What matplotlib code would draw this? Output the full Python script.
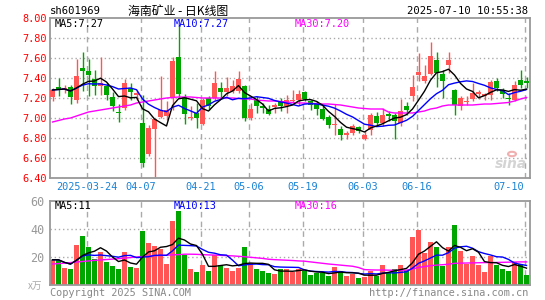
import numpy as np
import pandas as pd
import matplotlib.pyplot as plt
from matplotlib.transforms import blended_transform_factory

plt.rcParams['font.family'] = ['DejaVu Sans Mono', 'Noto Sans CJK SC']

# daily candles, 80 trading days
opens = [7.21, 7.31, 7.29, 7.31, 7.18, 7.50, 7.47, 7.39, 7.32, 7.32,
         7.21, 7.06, 7.10, 7.30, 7.23, 6.95, 6.64, 6.89, 7.01, 7.02,
         7.21, 7.61, 7.21, 7.00, 7.05, 6.94, 7.20, 7.20, 7.30, 7.26,
         7.27, 7.27, 7.32, 7.00, 7.18, 7.12, 7.09, 7.11, 7.17, 7.12,
         7.17, 7.18, 7.26, 7.17, 7.15, 7.09, 7.01, 6.93, 6.89, 6.83,
         6.85, 6.91, 6.79, 6.88, 7.02, 6.95, 7.04, 7.03, 6.95, 7.12,
         7.22, 7.43, 7.37, 7.44, 7.58, 7.44, 7.53, 7.28, 7.12, 7.16,
         7.19, 7.24, 7.22, 7.23, 7.37, 7.28, 7.20, 7.18, 7.38, 7.37]
highs = [7.30, 7.40, 7.33, 7.33, 7.59, 7.66, 7.59, 7.48, 7.61, 7.35,
         7.26, 7.14, 7.39, 7.35, 7.28, 7.23, 6.93, 7.00, 7.42, 7.17,
         7.61, 7.92, 7.24, 7.12, 7.15, 7.20, 7.22, 7.47, 7.36, 7.41,
         7.38, 7.47, 7.33, 7.15, 7.22, 7.15, 7.13, 7.15, 7.20, 7.23,
         7.28, 7.28, 7.27, 7.18, 7.17, 7.12, 7.03, 7.14, 6.92, 6.87,
         6.94, 6.92, 6.87, 7.05, 7.06, 7.10, 7.07, 7.05, 7.19, 7.16,
         7.43, 7.65, 7.53, 7.76, 7.66, 7.48, 7.66, 7.29, 7.22, 7.22,
         7.35, 7.28, 7.25, 7.38, 7.40, 7.30, 7.25, 7.37, 7.48, 7.41]
lows = [7.17, 7.22, 7.25, 7.14, 7.15, 7.27, 7.22, 7.23, 7.23, 7.18,
        7.07, 6.96, 7.08, 7.18, 7.18, 6.51, 6.62, 6.41, 7.00, 6.98,
        7.08, 7.20, 6.94, 6.98, 6.90, 6.93, 7.08, 7.18, 7.20, 7.22,
        7.25, 7.25, 6.97, 6.98, 7.05, 7.05, 7.03, 7.05, 7.07, 7.05,
        7.15, 7.13, 7.17, 7.08, 7.03, 6.98, 6.90, 6.83, 6.78, 6.79,
        6.83, 6.85, 6.78, 6.83, 6.93, 6.92, 6.97, 6.79, 6.92, 7.03,
        7.17, 7.37, 7.35, 7.43, 7.31, 7.20, 7.45, 7.03, 7.08, 7.13,
        7.17, 7.19, 7.18, 7.18, 7.27, 7.20, 7.13, 7.17, 7.30, 7.30]
closes = [7.28, 7.29, 7.30, 7.21, 7.42, 7.47, 7.43, 7.32, 7.35, 7.23,
          7.12, 7.05, 7.35, 7.26, 7.25, 6.55, 6.90, 6.99, 7.08, 7.08,
          7.57, 7.24, 7.04, 7.01, 7.00, 7.18, 7.12, 7.35, 7.26, 7.30,
          7.32, 7.39, 7.00, 7.09, 7.12, 7.10, 7.04, 7.13, 7.12, 7.18,
          7.18, 7.24, 7.19, 7.13, 7.09, 6.99, 6.93, 6.94, 6.83, 6.85,
          6.92, 6.87, 6.83, 7.03, 6.95, 7.03, 7.02, 6.97, 7.07, 7.08,
          7.31, 7.46, 7.42, 7.62, 7.45, 7.37, 7.58, 7.13, 7.20, 7.17,
          7.25, 7.26, 7.24, 7.36, 7.30, 7.24, 7.19, 7.33, 7.33, 7.35]
# volume in 10k lots
volumes = [18, 18, 12.4, 11.4, 28.6, 35, 27.4, 18.3, 23.8, 16.7,
           13.6, 11.4, 23.8, 13.1, 12.4, 38.6, 30.2, 27.9, 25.7, 15,
           45.7, 52.9, 21.4, 11.4, 9.5, 14.3, 10, 21.4, 14.3, 12.4,
           10.2, 12.4, 27.4, 16, 11.4, 10.2, 8.8, 7.9, 11.4, 11.4,
           9.5, 11.4, 10, 7.1, 8.8, 8.3, 6.4, 12.6, 10.2, 6.4,
           7.9, 5.2, 5.5, 10, 6.4, 14.3, 8.8, 11.2, 14.3, 10.7,
           34.5, 39.3, 22.6, 31, 26.9, 13.6, 26.9, 42.9, 24.3, 14.8,
           20.7, 14.3, 9.5, 20.7, 14.3, 11.4, 10, 16.7, 15, 7.1]
# 30-day averages (they need days before the window)
price_ma30 = [6.96, 6.975, 6.99, 7.00, 7.02, 7.04, 7.06, 7.07, 7.08, 7.09,
              7.10, 7.11, 7.12, 7.13, 7.15, 7.16, 7.17, 7.18, 7.19, 7.20,
              7.205, 7.21, 7.21, 7.21, 7.205, 7.20, 7.20, 7.20, 7.20, 7.20,
              7.20, 7.195, 7.19, 7.19, 7.18, 7.175, 7.17, 7.17, 7.165, 7.16,
              7.155, 7.15, 7.15, 7.145, 7.145, 7.14, 7.14, 7.135, 7.13, 7.12,
              7.11, 7.10, 7.095, 7.09, 7.09, 7.09, 7.06, 7.05, 7.05, 7.05,
              7.05, 7.06, 7.07, 7.09, 7.10, 7.12, 7.13, 7.13, 7.13, 7.13,
              7.13, 7.135, 7.14, 7.14, 7.145, 7.15, 7.155, 7.17, 7.19, 7.205]
vol_ma30 = [15, 15.3, 15.6, 16, 16.4, 16.8, 17.2, 17.6, 17.9, 18.2,
            18.5, 18.8, 19.2, 19.6, 20, 20.3, 20.6, 20.9, 21.1, 21.3,
            21.5, 21.7, 22, 22, 21.9, 21.7, 21.5, 21.4, 21.2, 21,
            20.8, 20.5, 20.2, 19.8, 19.4, 19, 18.4, 18.1, 17.9, 17.7,
            17.5, 17.2, 17, 16.5, 16, 15.5, 15, 14.6, 14.2, 13.8,
            13.4, 12.5, 11, 10.8, 10.7, 10.7, 10.6, 10.5, 10.5, 10.6,
            11.5, 12.5, 13.2, 13.8, 14.2, 14.5, 14.8, 15.5, 15.6, 15.7,
            15.8, 15.9, 16, 16, 16.1, 16.2, 16.3, 16.4, 16.5, 16.5]
date_pos = [6, 15, 25, 33, 42, 52, 61, 79]
date_labels = ['2025-03-24', '04-07', '04-21', '05-06', '05-19', '06-03', '06-16', '07-10']

RED = '#ff5555'
GREEN = '#00a600'
GRAY = '#999999'

df = pd.DataFrame({'o': opens, 'h': highs, 'l': lows, 'c': closes, 'v': volumes})
df['ma5'] = df['c'].rolling(5, min_periods=1).mean()
df['ma10'] = df['c'].rolling(10, min_periods=1).mean()
df['vma5'] = df['v'].rolling(5, min_periods=1).mean()
df['vma10'] = df['v'].rolling(10, min_periods=1).mean()
x = np.arange(len(df))
up = df['c'] >= df['o']
colors = np.where(up, RED, GREEN)

W, H = 545, 300
fig = plt.figure(figsize=(W / 100, H / 100), dpi=100)
ax = fig.add_axes([50 / W, 1 - 178 / H, 480 / W, 160 / H])
axv = fig.add_axes([50 / W, 1 - 285 / H, 480 / W, 84 / H])

bw = 5 / 6
for a in (ax, axv):
    a.set_xlim(-2.5 / 6, 79 + 3.5 / 6)
    for s in a.spines.values():
        s.set_color(GRAY)
        s.set_linewidth(1.3)
    a.tick_params(length=0)
    a.set_xticks([])
    for p in date_pos:
        a.axvline(p - 0.25, color='#aaaaaa', lw=1, ls=(0, (4, 3)), zorder=0)

# candles
ax.vlines(x, df['l'], df['h'], colors=colors, lw=1, zorder=2)
body = (df['c'] - df['o']).abs().clip(lower=0.006)
ax.bar(x, body, bottom=np.minimum(df['o'], df['c']), width=bw, color=colors, lw=0, zorder=3)
ax.plot(x, price_ma30, color='#ff00ff', lw=1, zorder=4)
ax.plot(x, df['ma10'], color='#0000ff', lw=1, zorder=4)
ax.plot(x, df['ma5'], color='black', lw=1, zorder=5)
ax.set_ylim(6.4, 8.0)
pticks = np.arange(6.4, 8.01, 0.2)
ax.set_yticks(pticks)
ax.set_yticklabels(['%.2f' % t for t in pticks], color='#ff0000', fontsize=7.4)
ax.tick_params(axis='y', pad=2)
for t in pticks[1:-1]:
    ax.axhline(t, color='#aaaaaa', lw=1, ls=(0, (1, 2)), zorder=0)

# volume
axv.bar(x, df['v'], width=bw, color=colors, lw=0, zorder=2)
axv.plot(x, vol_ma30, color='#ff00ff', lw=1, zorder=3)
axv.plot(x, df['vma10'], color='#0000ff', lw=1, zorder=3)
axv.plot(x, df['vma5'], color='black', lw=1, zorder=4)
axv.set_ylim(0, 60)
axv.set_yticks([20, 40, 60])
axv.set_yticklabels(['20', '40', '60'], color=GRAY, fontsize=8.5)
axv.tick_params(axis='y', pad=4)
for t in (20, 40):
    axv.axhline(t, color='#aaaaaa', lw=1, ls=(0, (1, 2)), zorder=0)

# date labels
tr = blended_transform_factory(ax.transData, fig.transFigure)
for p, lab in zip(date_pos, date_labels):
    if p == date_pos[-1]:
        ax.text(p - 0.5, 1 - 187 / H, lab, transform=tr, ha='right', va='center',
                color='#1a82d4', fontsize=7.4)
    else:
        ax.text(p - 0.25, 1 - 187 / H, lab, transform=tr, ha='center', va='center',
                color='#1a82d4', fontsize=7.4)

def ftext(px, py, s, **kw):
    fig.text(px / W, 1 - py / H, s, va='center', **kw)

ftext(50, 11, 'sh601969', fontsize=7.6, color='black')
ftext(178, 11, '海南矿业 - 日K线图', ha='center', fontsize=8.6, color='black',
      family=['Noto Sans CJK SC', 'DejaVu Sans'])
ftext(528, 11, '2025-07-10 10:55:38', ha='right', fontsize=7.6, color='black')
ftext(55, 24, 'MA5:7.27', fontsize=7.4, color='black')
ftext(174, 24, 'MA10:7.27', fontsize=7.4, color='#0000ff')
ftext(295, 24, 'MA30:7.20', fontsize=7.4, color='#ff00ff')
ftext(55, 206, 'MA5:11', fontsize=7.4, color='black')
ftext(174, 206, 'MA10:13', fontsize=7.4, color='#0000ff')
ftext(295, 206, 'MA30:16', fontsize=7.4, color='#ff00ff')
ftext(28, 286, 'x万', fontsize=7, color='#aaaaaa', family=['Noto Sans CJK SC', 'DejaVu Sans'])
ftext(50, 293, 'Copyright 2025 SINA.COM', fontsize=7.4, color='#888888')
ftext(528, 293, 'http://finance.sina.com.cn', ha='right', fontsize=7.4, color='#888888')
# sina watermark
fig.patches.append(plt.Circle((512 / W, 1 - 154 / H), 4 / W, transform=fig.transFigure,
                              facecolor='none', edgecolor='#f0b0b0', lw=1.5))
ftext(527, 164, 'sina', ha='right', fontsize=10, color='#d4d4d4', style='italic',
      weight='bold', family='DejaVu Sans')

fig.savefig('out.png', dpi=100)
